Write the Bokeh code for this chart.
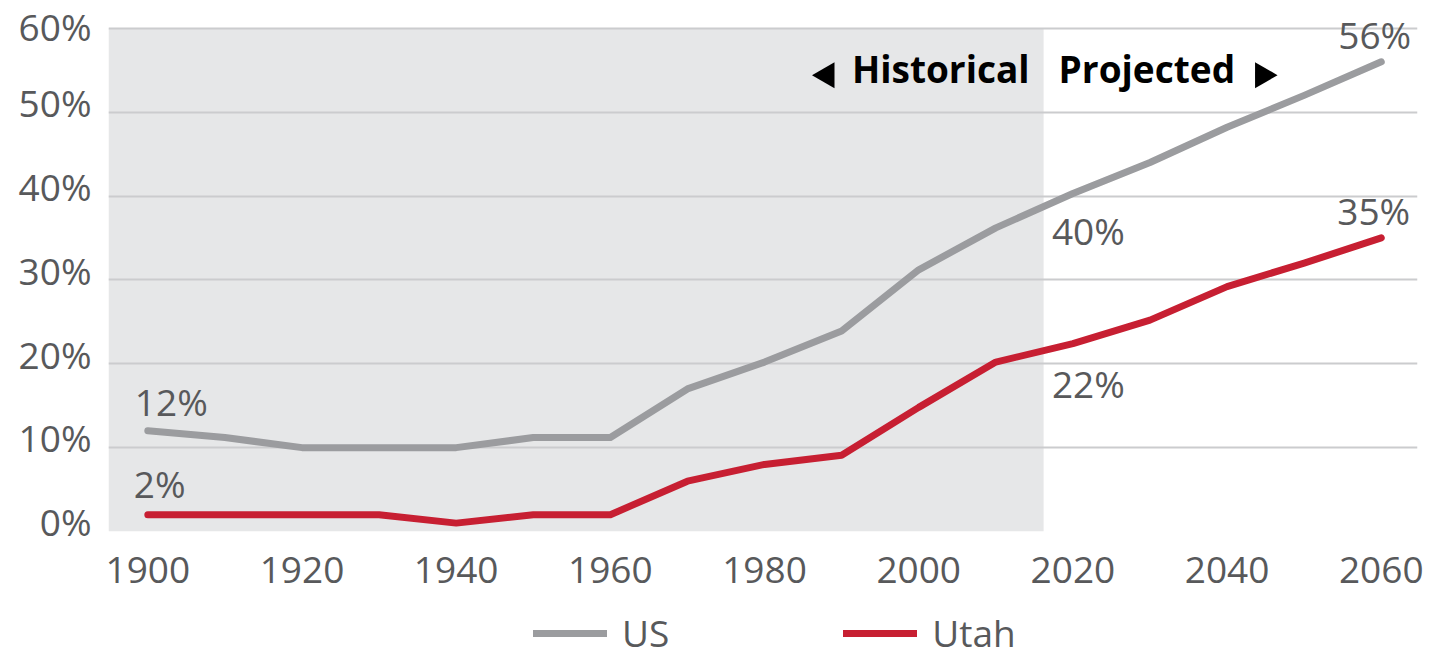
import math
from bokeh.plotting import figure
from bokeh.layouts import column
from bokeh.models import (Range1d, FixedTicker, BoxAnnotation, Label, Legend,
                          LegendItem, ColumnDataSource)
from bokeh.embed import file_html
from bokeh.resources import INLINE

# ---------------- data ----------------
years = [1900, 1910, 1920, 1930, 1940, 1950, 1960, 1970, 1980, 1990,
         2000, 2010, 2020, 2030, 2040, 2050, 2060]
us = [12, 11.2, 10, 10, 10, 11.2, 11.2, 17, 20.2, 23.9,
      31.2, 36.2, 40.3, 44, 48.2, 52, 56]
utah = [2, 2, 2, 2, 1, 2, 2, 6, 8, 9.1,
        14.8, 20.2, 22.4, 25.2, 29.2, 32, 35]
y_ticks = [0, 10, 20, 30, 40, 50, 60]
y_tick_labels = ["0%", "10%", "20%", "30%", "40%", "50%", "60%"]
x_ticks = [1900, 1920, 1940, 1960, 1980, 2000, 2020, 2040, 2060]
shade_end = 2016.2  # end of historical period
series_names = ["US", "Utah"]

# value labels: (text, year, value)
us_labels = [("12%", 1900, 12), ("40%", 2020, 40.3), ("56%", 2060, 56)]
utah_labels = [("2%", 1900, 2), ("22%", 2020, 22.4), ("35%", 2060, 35)]

GRAY_TXT = "#58595b"
US_COL = "#9b9c9f"
UT_COL = "#c71f32"
SHADE = "#e6e7e8"
GRID = "#cbccce"
FONT = "Open Sans"
LABEL_SHIFT = 1.15  # tick-label lift (in % units) so labels sit like the original

p = figure(width=1431, height=610, output_backend="svg", toolbar_location=None,
           x_range=Range1d(1894.9, 2064.7), y_range=Range1d(0, 63.31),
           min_border_left=108, min_border_right=14, min_border_top=0,
           min_border_bottom=79)
p.outline_line_color = None
p.background_fill_color = "white"

# shaded historical region
box = BoxAnnotation(right=shade_end, bottom=0, top=60, fill_color=SHADE,
                    fill_alpha=1, line_alpha=0, level="underlay")
p.center = [box] + list(p.center)

p.xgrid.grid_line_color = None
p.ygrid.grid_line_color = GRID
p.ygrid.grid_line_width = 2
p.ygrid.ticker = FixedTicker(ticks=y_ticks)

for ax in (p.xaxis[0], p.yaxis[0]):
    ax.axis_line_color = None
    ax.major_tick_line_color = None
    ax.minor_tick_line_color = None
    ax.major_label_text_font = FONT
    ax.major_label_text_font_size = "37px"
    ax.major_label_text_color = GRAY_TXT

shifted = [t + LABEL_SHIFT for t in y_ticks]
p.yaxis.ticker = FixedTicker(ticks=shifted)
p.yaxis.major_label_overrides = {s: lab for s, lab in zip(shifted, y_tick_labels)}
p.yaxis.major_label_standoff = 11
p.xaxis.ticker = FixedTicker(ticks=x_ticks)
p.xaxis.major_label_standoff = 19

r_us = p.line(years, us, line_color=US_COL, line_width=7,
              line_cap="round", line_join="round")
r_ut = p.line(years, utah, line_color=UT_COL, line_width=7,
              line_cap="round", line_join="round")

# value labels
offs = {"12%": (-13, 29), "40%": (-21, -37), "56%": (-43, 27),
        "2%": (-14, 31), "22%": (-21, -40), "35%": (-44, 27)}
for txt, x, y in us_labels + utah_labels:
    dx, dy = offs[txt]
    p.add_layout(Label(x=x, y=y, text=txt, x_offset=dx, y_offset=dy,
                       text_font=FONT, text_font_size="37px",
                       text_color=GRAY_TXT, text_baseline="alphabetic",
                       text_align="left"))

# Historical / Projected headers
p.add_layout(Label(x=shade_end, y=60, text="Historical", x_offset=-14, y_offset=-40,
                   text_font=FONT, text_font_style="bold", text_font_size="37px",
                   text_color="#000000", text_baseline="alphabetic", text_align="right"))
p.add_layout(Label(x=shade_end, y=60, text="Projected", x_offset=15, y_offset=-40,
                   text_font=FONT, text_font_style="bold", text_font_size="37px",
                   text_color="#000000", text_baseline="alphabetic", text_align="left"))
tri_src = ColumnDataSource(dict(x=[1988.1, 2044.6], y=[54.4, 54.4],
                                angle=[math.pi / 2, -math.pi / 2]))
p.scatter("x", "y", source=tri_src, marker="triangle", size=26, angle="angle",
          fill_color="#000000", line_color=None)

# ---------------- legend strip ----------------
leg = figure(width=1431, height=39, output_backend="svg", toolbar_location=None,
             x_range=Range1d(0, 1), y_range=Range1d(0, 1),
             x_axis_location=None, y_axis_location=None,
             min_border_left=108, min_border_right=14, min_border_top=0,
             min_border_bottom=0)
leg.outline_line_color = None
leg.grid.visible = False
# legend-key renderers (their points lie outside the strip's range, only keys show)
lr_us = leg.line([-3, -2], [-3, -2], line_color=US_COL, line_width=7, line_cap="round")
lr_ut = leg.line([-3, -2], [-3, -2], line_color=UT_COL, line_width=7, line_cap="round")
legend = Legend(items=[LegendItem(label=series_names[0], renderers=[lr_us]),
                       LegendItem(label=series_names[1], renderers=[lr_ut])],
                orientation="horizontal", location=(425, -9),
                glyph_width=74, glyph_height=36, label_height=36,
                label_standoff=15, spacing=174,
                label_text_font=FONT, label_text_font_size="37px",
                label_text_color=GRAY_TXT,
                background_fill_alpha=0, border_line_alpha=0,
                padding=0, margin=0)
leg.add_layout(legend, "center")

open("out.html", "w").write(file_html(column(p, leg, spacing=0), INLINE))
